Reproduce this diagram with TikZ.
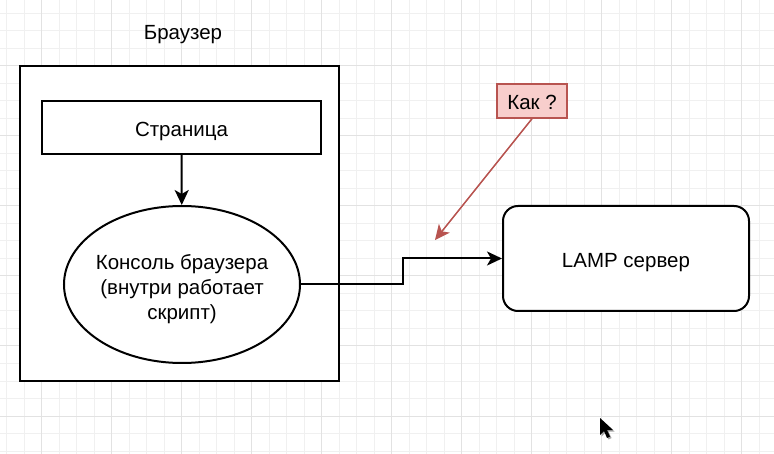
\documentclass[tikz,border=0pt]{standalone}
\usepackage{fontspec}
\setmainfont{Liberation Sans}
\usetikzlibrary{positioning, arrows.meta, shapes.geometric}
\definecolor{gridminor}{HTML}{F0F0F0}
\definecolor{gridmajor}{HTML}{E2E2E2}
\definecolor{noteFill}{HTML}{F8CECC}
\definecolor{noteDraw}{HTML}{B85450}

\begin{document}
\begin{tikzpicture}[x=1pt, y=-1pt,
        txt/.style={text height=18pt, text depth=0pt},
        box/.style={rectangle, draw=black, line width=2pt, fill=white, inner sep=0pt, txt},
        oval/.style={ellipse, draw=black, line width=2pt, fill=white, inner ysep=0pt, inner xsep=-3.9pt, align=center},
        note/.style={rectangle, draw=noteDraw, fill=noteFill, line width=1.5pt, minimum width=70pt, minimum height=34pt, inner sep=0pt, txt},
        link/.style={draw=black, line width=2pt, -{Stealth[length=15pt, width=14pt, inset=4pt]}},
        font=\fontsize{20.5}{24.8}\selectfont
    ]
        % canvas and grid
        \fill[white] (0,0) rectangle (774,454);
        \useasboundingbox (0,0) rectangle (774,454);
        \foreach \gx in {0,...,43}
            \draw[gridminor, line width=1pt] ({6.7+17.5*\gx},0) -- ++(0,454);
        \foreach \gy in {0,...,25}
            \draw[gridminor, line width=1pt] (0,{13.5+17.5*\gy}) -- ++(774,0);
        \foreach \gx in {0,...,10}
            \draw[gridmajor, line width=1pt] ({41.7+70*\gx},0) -- ++(0,454);
        \foreach \gy in {0,...,5}
            \draw[gridmajor, line width=1pt] (0,{66+70*\gy}) -- ++(774,0);

        % browser
        \node[box, minimum width=319pt, minimum height=315pt] (browser) at (179.5,223.5) {};
        \node[txt] (browserLabel) at (183,31) {Браузер};
        \node[box, minimum width=279pt, minimum height=53pt] (page) at (181.5,127.5) {Страница};
        \node[oval, minimum width=236pt, minimum height=157pt, text height=69.6pt, text depth=0pt] (console) at (182,284.5) {Консоль браузера\\(внутри работает\\скрипт)};

        % server and question
        \node[box, rounded corners=15pt, minimum width=246pt, minimum height=105pt] (server) at (626,258.5) {LAMP сервер};
        \node[note] (question) at (532,101) {Как ?};
        \coordinate (questionTip) at (435,240);

        \draw[link] (page) -- (console);
        \draw[link] (console.east) -- ++(102,0) |- (server.west);
        \draw[link, draw=noteDraw, line width=1.5pt] (question.south) -- (questionTip);

        % mouse pointer
        \fill[black!35] (601.5,419.5) -- ++(0,17) -- ++(4,-4) -- ++(3,7) -- ++(3,-1.5) -- ++(-3,-6.5) -- ++(6,0) -- cycle;
        \fill[black] (600,418) -- ++(0,17) -- ++(4,-4) -- ++(3,7) -- ++(3,-1.5) -- ++(-3,-6.5) -- ++(6,0) -- cycle;
    \end{tikzpicture}
\end{document}
